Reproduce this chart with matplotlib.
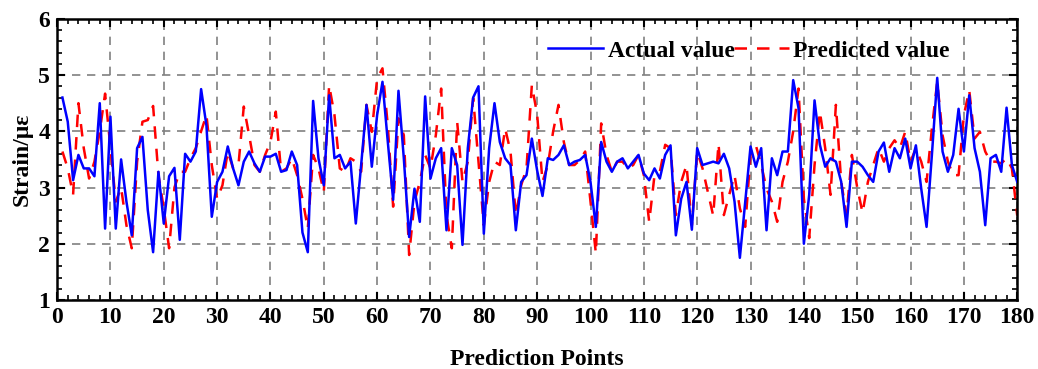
import numpy as np
import matplotlib.pyplot as plt
from matplotlib.ticker import MultipleLocator

# prediction point index
points = np.arange(1, 181)

actual = [
    4.6, 4.17, 3.13, 3.58, 3.34, 3.34, 3.2, 4.5, 2.27, 4.26,
    2.27, 3.5, 2.75, 2.15, 3.7, 3.9, 2.6, 1.85, 3.28, 2.36,
    3.2, 3.35, 2.07, 3.6, 3.46, 3.64, 4.75, 4.1, 2.48, 3.1,
    3.28, 3.73, 3.34, 3.04, 3.46, 3.64, 3.43, 3.28, 3.55, 3.55,
    3.6, 3.28, 3.31, 3.64, 3.4, 2.2, 1.85, 4.54, 3.52, 3.04,
    4.64, 3.52, 3.58, 3.34, 3.46, 2.36, 3.4, 4.47, 3.37, 4.29,
    4.88, 3.81, 2.78, 4.72, 3.52, 2.12, 2.98, 2.39, 4.62, 3.16,
    3.52, 3.7, 2.24, 3.7, 3.4, 1.98, 3.7, 4.6, 4.8, 2.18,
    3.7, 4.5, 3.81, 3.52, 3.4, 2.24, 3.1, 3.22, 3.87, 3.3,
    2.85, 3.52, 3.49, 3.58, 3.75, 3.4, 3.46, 3.49, 3.58, 3.1,
    2.3, 3.81, 3.46, 3.28, 3.46, 3.52, 3.34, 3.46, 3.58, 3.25,
    3.13, 3.34, 3.16, 3.58, 3.75, 2.15, 2.8, 3.1, 2.25, 3.7,
    3.4, 3.43, 3.46, 3.43, 3.6, 3.34, 2.75, 1.75, 2.75, 3.73,
    3.37, 3.7, 2.24, 3.52, 3.22, 3.64, 3.64, 4.91, 4.41, 2.0,
    2.87, 4.55, 3.76, 3.37, 3.52, 3.46, 3.1, 2.3, 3.46, 3.46,
    3.37, 3.22, 3.1, 3.64, 3.8, 3.28, 3.7, 3.52, 3.87, 3.34,
    3.75, 2.98, 2.3, 3.58, 4.95, 3.64, 3.28, 3.58, 4.4, 3.64,
    4.64, 3.7, 3.28, 2.33, 3.52, 3.58, 3.28, 4.42, 3.4, 3.1,
]

predicted = [
    3.64, 3.34, 2.87, 4.5, 3.7, 3.16, 3.46, 4.0, 4.67, 3.7,
    2.75, 3.0, 2.33, 1.92, 3.46, 4.17, 4.2, 4.45, 3.22, 2.63,
    1.92, 3.0, 3.28, 3.28, 3.52, 3.7, 4.0, 4.29, 3.4, 2.8,
    3.04, 3.64, 3.34, 3.4, 4.44, 3.93, 3.4, 3.28, 3.58, 3.81,
    4.35, 3.28, 3.34, 3.52, 3.22, 2.8, 2.27, 3.58, 3.34, 2.92,
    4.82, 4.29, 3.34, 3.28, 3.52, 3.46, 3.28, 4.47, 3.99, 4.94,
    5.12, 4.1, 2.66, 4.23, 3.93, 1.8, 2.75, 3.1, 3.58, 3.34,
    3.93, 4.76, 2.51, 1.92, 4.17, 3.1, 3.46, 4.59, 3.46, 2.33,
    3.1, 3.46, 3.4, 4.05, 3.64, 2.51, 3.04, 3.34, 4.82, 4.3,
    3.1, 3.4, 4.0, 4.47, 3.81, 3.4, 3.4, 3.49, 3.64, 2.75,
    1.83, 4.14, 3.58, 3.28, 3.46, 3.46, 3.34, 3.4, 3.58, 3.22,
    2.39, 3.22, 3.28, 3.76, 3.7, 2.51, 3.1, 3.4, 2.33, 3.64,
    3.34, 2.92, 2.5, 3.78, 2.51, 2.87, 3.22, 2.63, 2.3, 3.58,
    3.75, 3.4, 2.98, 2.75, 2.39, 3.1, 3.46, 4.0, 4.76, 2.8,
    2.1, 3.4, 4.35, 3.7, 2.87, 4.47, 3.1, 2.51, 3.58, 3.0,
    2.55, 3.1, 3.4, 3.7, 3.46, 3.7, 3.84, 3.7, 3.99, 3.46,
    3.7, 3.46, 3.1, 4.05, 4.88, 3.93, 3.46, 3.22, 3.22, 4.29,
    4.73, 3.87, 3.99, 3.64, 3.46, 3.46, 3.43, 3.52, 3.34, 2.5,
]

plt.rcParams['font.family'] = ['Liberation Serif', 'DejaVu Serif']
plt.rcParams['font.weight'] = 'bold'

fig = plt.figure(figsize=(10.38, 3.69), dpi=100)
ax = fig.add_axes([0.055, 0.187, 0.925, 0.762])

ax.plot(points, actual, color='#0000ff', linewidth=1.8, label='Actual value', zorder=3)
ax.plot(points, predicted, color='#ff0000', linewidth=1.8, linestyle=(0, (5, 4)),
        label='Predicted value', zorder=2)

ax.set_xlim(0, 180)
ax.set_ylim(1, 6)
ax.xaxis.set_major_locator(MultipleLocator(10))
ax.xaxis.set_minor_locator(MultipleLocator(2))
ax.yaxis.set_major_locator(MultipleLocator(1))
ax.yaxis.set_minor_locator(MultipleLocator(0.2))

ax.tick_params(which='both', direction='in', top=True, right=True, labelsize=17)
ax.tick_params(which='major', length=6, width=1.5, pad=5)
ax.tick_params(which='minor', length=3.5, width=1.2)
for lab in ax.get_xticklabels() + ax.get_yticklabels():
    lab.set_fontweight('bold')

for s in ax.spines.values():
    s.set_linewidth(1.8)

ax.grid(True, which='major', color='#808080', linestyle=(0, (5, 4)), linewidth=1.2)

ax.set_xlabel('Prediction Points', fontsize=17, fontweight='bold', labelpad=15)
ax.set_ylabel('Strain/με', fontsize=17, fontweight='bold', labelpad=4)

ax.legend(loc='upper right', bbox_to_anchor=(0.952, 1.0), ncol=2, frameon=False,
          handlelength=2.3, columnspacing=0.0, handletextpad=0.2,
          prop={'weight': 'bold', 'size': 17})

fig.savefig('out.png', dpi=100)
